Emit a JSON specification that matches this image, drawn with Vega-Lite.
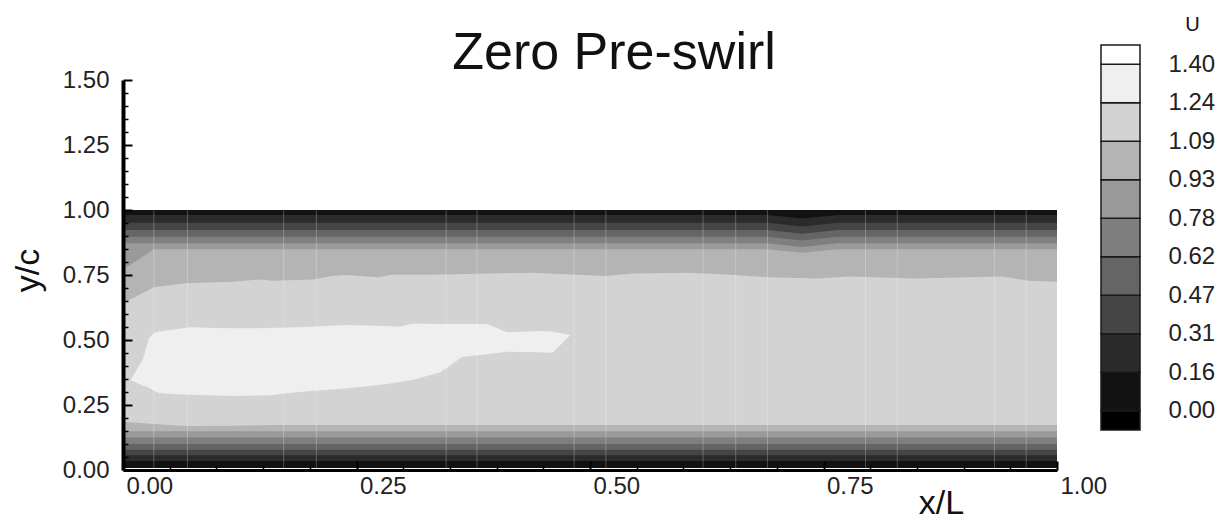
{
  "$schema": "https://vega.github.io/schema/vega-lite/v6.json",
  "background": "white",
  "padding": {"left": 11, "top": 14, "right": 5, "bottom": 0},
  "config": {
    "view": {"stroke": null},
    "font": "Liberation Sans",
    "axis": {"labelFont": "Liberation Sans", "titleFont": "Liberation Sans"}
  },
  "datasets": {
    "contours": [
      {"x": 0, "lo": 0.008, "hi": 1.0, "U": 0.08},
      {"x": 1, "lo": 0.008, "hi": 1.0, "U": 0.08},

      {"x": 0, "lo": 0.035, "hi": 0.981, "U": 0.23},
      {"x": 0.69, "lo": 0.035, "hi": 0.981, "U": 0.23},
      {"x": 0.727, "lo": 0.035, "hi": 0.967, "U": 0.23},
      {"x": 0.765, "lo": 0.035, "hi": 0.981, "U": 0.23},
      {"x": 1, "lo": 0.035, "hi": 0.981, "U": 0.23},

      {"x": 0, "lo": 0.057, "hi": 0.951, "U": 0.39},
      {"x": 0.69, "lo": 0.057, "hi": 0.951, "U": 0.39},
      {"x": 0.727, "lo": 0.057, "hi": 0.937, "U": 0.39},
      {"x": 0.765, "lo": 0.057, "hi": 0.951, "U": 0.39},
      {"x": 1, "lo": 0.057, "hi": 0.951, "U": 0.39},

      {"x": 0, "lo": 0.078, "hi": 0.923, "U": 0.54},
      {"x": 0.69, "lo": 0.078, "hi": 0.923, "U": 0.54},
      {"x": 0.727, "lo": 0.078, "hi": 0.909, "U": 0.54},
      {"x": 0.765, "lo": 0.078, "hi": 0.923, "U": 0.54},
      {"x": 1, "lo": 0.078, "hi": 0.923, "U": 0.54},

      {"x": 0, "lo": 0.100, "hi": 0.897, "U": 0.70},
      {"x": 0.69, "lo": 0.100, "hi": 0.897, "U": 0.70},
      {"x": 0.727, "lo": 0.100, "hi": 0.883, "U": 0.70},
      {"x": 0.765, "lo": 0.100, "hi": 0.897, "U": 0.70},
      {"x": 1, "lo": 0.100, "hi": 0.897, "U": 0.70},

      {"x": 0, "lo": 0.125, "hi": 0.872, "U": 0.86},
      {"x": 0.69, "lo": 0.125, "hi": 0.872, "U": 0.86},
      {"x": 0.727, "lo": 0.125, "hi": 0.858, "U": 0.86},
      {"x": 0.765, "lo": 0.125, "hi": 0.872, "U": 0.86},
      {"x": 1, "lo": 0.125, "hi": 0.872, "U": 0.86},

      {"x": 0, "lo": 0.149, "hi": 0.770, "U": 1.01},
      {"x": 0.033, "lo": 0.149, "hi": 0.849, "U": 1.01},
      {"x": 0.69, "lo": 0.149, "hi": 0.849, "U": 1.01},
      {"x": 0.727, "lo": 0.149, "hi": 0.836, "U": 1.01},
      {"x": 0.765, "lo": 0.149, "hi": 0.849, "U": 1.01},
      {"x": 1, "lo": 0.149, "hi": 0.849, "U": 1.01},

      {"x": 0, "lo": 0.186, "hi": 0.641, "U": 1.17},
      {"x": 0.033, "lo": 0.177, "hi": 0.703, "U": 1.17},
      {"x": 0.067, "lo": 0.169, "hi": 0.718, "U": 1.17},
      {"x": 0.117, "lo": 0.170, "hi": 0.724, "U": 1.17},
      {"x": 0.146, "lo": 0.172, "hi": 0.733, "U": 1.17},
      {"x": 0.160, "lo": 0.173, "hi": 0.728, "U": 1.17},
      {"x": 0.203, "lo": 0.173, "hi": 0.733, "U": 1.17},
      {"x": 0.224, "lo": 0.173, "hi": 0.746, "U": 1.17},
      {"x": 0.238, "lo": 0.173, "hi": 0.750, "U": 1.17},
      {"x": 0.274, "lo": 0.173, "hi": 0.741, "U": 1.17},
      {"x": 0.288, "lo": 0.173, "hi": 0.751, "U": 1.17},
      {"x": 0.331, "lo": 0.173, "hi": 0.751, "U": 1.17},
      {"x": 0.438, "lo": 0.173, "hi": 0.759, "U": 1.17},
      {"x": 0.456, "lo": 0.173, "hi": 0.756, "U": 1.17},
      {"x": 0.517, "lo": 0.173, "hi": 0.746, "U": 1.17},
      {"x": 0.545, "lo": 0.173, "hi": 0.756, "U": 1.17},
      {"x": 0.606, "lo": 0.173, "hi": 0.759, "U": 1.17},
      {"x": 0.656, "lo": 0.173, "hi": 0.750, "U": 1.17},
      {"x": 0.692, "lo": 0.173, "hi": 0.741, "U": 1.17},
      {"x": 0.742, "lo": 0.173, "hi": 0.737, "U": 1.17},
      {"x": 0.777, "lo": 0.173, "hi": 0.744, "U": 1.17},
      {"x": 0.849, "lo": 0.173, "hi": 0.737, "U": 1.17},
      {"x": 0.941, "lo": 0.173, "hi": 0.744, "U": 1.17},
      {"x": 0.970, "lo": 0.173, "hi": 0.728, "U": 1.17},
      {"x": 1.0, "lo": 0.173, "hi": 0.724, "U": 1.17},

      {"x": 0.008, "lo": 0.346, "hi": 0.346, "U": 1.32},
      {"x": 0.021, "lo": 0.325, "hi": 0.423, "U": 1.32},
      {"x": 0.028, "lo": 0.316, "hi": 0.507, "U": 1.32},
      {"x": 0.033, "lo": 0.305, "hi": 0.526, "U": 1.32},
      {"x": 0.039, "lo": 0.296, "hi": 0.533, "U": 1.32},
      {"x": 0.056, "lo": 0.291, "hi": 0.541, "U": 1.32},
      {"x": 0.071, "lo": 0.289, "hi": 0.549, "U": 1.32},
      {"x": 0.099, "lo": 0.287, "hi": 0.546, "U": 1.32},
      {"x": 0.121, "lo": 0.285, "hi": 0.545, "U": 1.32},
      {"x": 0.156, "lo": 0.287, "hi": 0.546, "U": 1.32},
      {"x": 0.188, "lo": 0.300, "hi": 0.549, "U": 1.32},
      {"x": 0.238, "lo": 0.313, "hi": 0.558, "U": 1.32},
      {"x": 0.281, "lo": 0.330, "hi": 0.554, "U": 1.32},
      {"x": 0.296, "lo": 0.338, "hi": 0.551, "U": 1.32},
      {"x": 0.310, "lo": 0.346, "hi": 0.563, "U": 1.32},
      {"x": 0.340, "lo": 0.376, "hi": 0.562, "U": 1.32},
      {"x": 0.363, "lo": 0.435, "hi": 0.562, "U": 1.32},
      {"x": 0.390, "lo": 0.445, "hi": 0.562, "U": 1.32},
      {"x": 0.411, "lo": 0.455, "hi": 0.530, "U": 1.32},
      {"x": 0.445, "lo": 0.453, "hi": 0.535, "U": 1.32},
      {"x": 0.460, "lo": 0.451, "hi": 0.532, "U": 1.32},
      {"x": 0.479, "lo": 0.519, "hi": 0.519, "U": 1.32}
    ],
    "mesh": [
      {"x": 0.033}, {"x": 0.069}, {"x": 0.172}, {"x": 0.207}, {"x": 0.346},
      {"x": 0.379}, {"x": 0.483}, {"x": 0.517}, {"x": 0.621}, {"x": 0.656},
      {"x": 0.690}, {"x": 0.795}, {"x": 0.829}, {"x": 0.933}, {"x": 0.967}
    ],
    "legend": [
      {"lo": -0.0778, "hi": 0, "U": -0.04},
      {"lo": 0, "hi": 0.15556, "U": 0.08},
      {"lo": 0.15556, "hi": 0.31111, "U": 0.23},
      {"lo": 0.31111, "hi": 0.46667, "U": 0.39},
      {"lo": 0.46667, "hi": 0.62222, "U": 0.54},
      {"lo": 0.62222, "hi": 0.77778, "U": 0.70},
      {"lo": 0.77778, "hi": 0.93333, "U": 0.86},
      {"lo": 0.93333, "hi": 1.08889, "U": 1.01},
      {"lo": 1.08889, "hi": 1.24444, "U": 1.17},
      {"lo": 1.24444, "hi": 1.4, "U": 1.32},
      {"lo": 1.4, "hi": 1.4778, "U": 1.44}
    ]
  },
  "spacing": 44,
  "bounds": "flush",
  "resolve": {"scale": {"color": "shared", "x": "independent", "y": "independent"}},
  "hconcat": [
    {
      "width": 934,
      "height": 425,
      "title": {
        "text": "Zero Pre-swirl",
        "font": "Liberation Sans",
        "fontSize": 52,
        "fontWeight": "normal",
        "color": "#111111",
        "anchor": "middle",
        "baseline": "alphabetic",
        "offset": 0,
        "dx": 24,
        "dy": 76
      },
      "resolve": {"axis": {"x": "independent", "y": "independent"}},
      "layer": [
        {
          "data": {"name": "contours"},
          "mark": {"type": "area", "interpolate": "linear"},
          "encoding": {
            "x": {
              "field": "x",
              "type": "quantitative",
              "scale": {"domain": [0, 1], "nice": false, "zero": false},
              "axis": {
                "orient": "bottom",
                "values": [0, 0.25, 0.5, 0.75, 1],
                "format": ".2f",
                "labelAlign": "left",
                "labelBaseline": "top",
                "labelOffset": 3,
                "labelFlush": false,
                "labelOverlap": false,
                "labelFontSize": 24,
                "labelColor": "#222222",
                "labelPadding": 13,
                "tickSize": -9,
                "tickWidth": 2,
                "tickColor": "#000000",
                "domainColor": "#000000",
                "domainWidth": 3,
                "grid": false,
                "title": "x/L",
                "titleFontSize": 34,
                "titleFontWeight": "normal",
                "titleColor": "#111111",
                "titleX": 818,
                "titleY": 43,
                "titleAlign": "center",
                "titleBaseline": "alphabetic",
                "zindex": 1
              }
            },
            "y": {
              "field": "lo",
              "type": "quantitative",
              "scale": {"domain": [0, 1.5], "range": [425, 35], "nice": false, "zero": false},
              "axis": {
                "orient": "left",
                "values": [0, 0.25, 0.5, 0.75, 1, 1.25, 1.5],
                "format": ".2f",
                "labelBaseline": "middle",
                "labelFlush": false,
                "labelOverlap": false,
                "labelFontSize": 24,
                "labelColor": "#222222",
                "labelPadding": 23,
                "tickSize": -9,
                "tickWidth": 2,
                "tickColor": "#000000",
                "domainColor": "#000000",
                "domainWidth": 4,
                "grid": false,
                "title": "y/c",
                "titleFontSize": 34,
                "titleFontWeight": "normal",
                "titleColor": "#111111",
                "titleAngle": 270,
                "titleX": -95,
                "titleY": 225,
                "titleAlign": "center",
                "titleBaseline": "middle",
                "zindex": 1
              }
            },
            "y2": {"field": "hi"},
            "color": {
              "field": "U",
              "type": "quantitative",
              "scale": {
                "type": "threshold",
                "domain": [0, 0.15556, 0.31111, 0.46667, 0.62222, 0.77778, 0.93333, 1.08889, 1.24444, 1.4],
                "range": ["#000000", "#121212", "#2b2b2b", "#454545", "#656565", "#7f7f7f", "#9a9a9a", "#b4b4b4", "#d3d3d3", "#efefef", "#ffffff"]
              },
              "legend": null
            }
          }
        },
        {
          "data": {"name": "mesh"},
          "mark": {"type": "rule", "color": "#ffffff", "opacity": 0.25, "strokeWidth": 1},
          "encoding": {
            "x": {
              "field": "x",
              "type": "quantitative",
              "axis": {
                "orient": "bottom",
                "values": [0.05, 0.1, 0.15, 0.2, 0.3, 0.35, 0.4, 0.45, 0.55, 0.6, 0.65, 0.7, 0.8, 0.85, 0.9, 0.95],
                "labels": false,
                "domain": false,
                "tickSize": -5,
                "tickWidth": 1.5,
                "tickColor": "#000000",
                "grid": false,
                "title": null,
                "zindex": 1
              }
            },
            "y": {
              "datum": 0,
              "type": "quantitative",
              "axis": {
                "orient": "left",
                "values": [0.05, 0.1, 0.15, 0.2, 0.3, 0.35, 0.4, 0.45, 0.55, 0.6, 0.65, 0.7, 0.8, 0.85, 0.9, 0.95, 1.05, 1.1, 1.15, 1.2, 1.3, 1.35, 1.4, 1.45],
                "labels": false,
                "domain": false,
                "tickSize": -5,
                "tickWidth": 1.5,
                "tickColor": "#000000",
                "grid": false,
                "title": null,
                "zindex": 1
              }
            },
            "y2": {"datum": 1}
          }
        }
      ]
    },
    {
      "width": 39,
      "height": 425,
      "data": {"name": "legend"},
      "mark": {"type": "rect", "stroke": "#1a1a1a", "strokeWidth": 1.5},
      "encoding": {
        "y": {
          "field": "lo",
          "type": "quantitative",
          "scale": {"domain": [-0.0778, 1.4778], "range": [385, 0], "nice": false, "zero": false},
          "axis": {
            "orient": "right",
            "values": [0, 0.15556, 0.31111, 0.46667, 0.62222, 0.77778, 0.93333, 1.08889, 1.24444, 1.4],
            "format": ".2f",
            "domain": false,
            "ticks": false,
            "grid": false,
            "labelPadding": 28,
            "labelFontSize": 24,
            "labelColor": "#222222",
            "labelBaseline": "middle",
            "labelOverlap": false,
            "labelFlush": false,
            "title": "U",
            "titleAngle": 0,
            "titleX": 52,
            "titleY": -21,
            "titleAlign": "center",
            "titleBaseline": "middle",
            "titleFontSize": 20,
            "titleFontWeight": "normal",
            "titleColor": "#111111"
          }
        },
        "y2": {"field": "hi"},
        "color": {
          "field": "U",
          "type": "quantitative",
          "scale": {
            "type": "threshold",
            "domain": [0, 0.15556, 0.31111, 0.46667, 0.62222, 0.77778, 0.93333, 1.08889, 1.24444, 1.4],
            "range": ["#000000", "#121212", "#2b2b2b", "#454545", "#656565", "#7f7f7f", "#9a9a9a", "#b4b4b4", "#d3d3d3", "#efefef", "#ffffff"]
          },
          "legend": null
        }
      }
    }
  ]
}
